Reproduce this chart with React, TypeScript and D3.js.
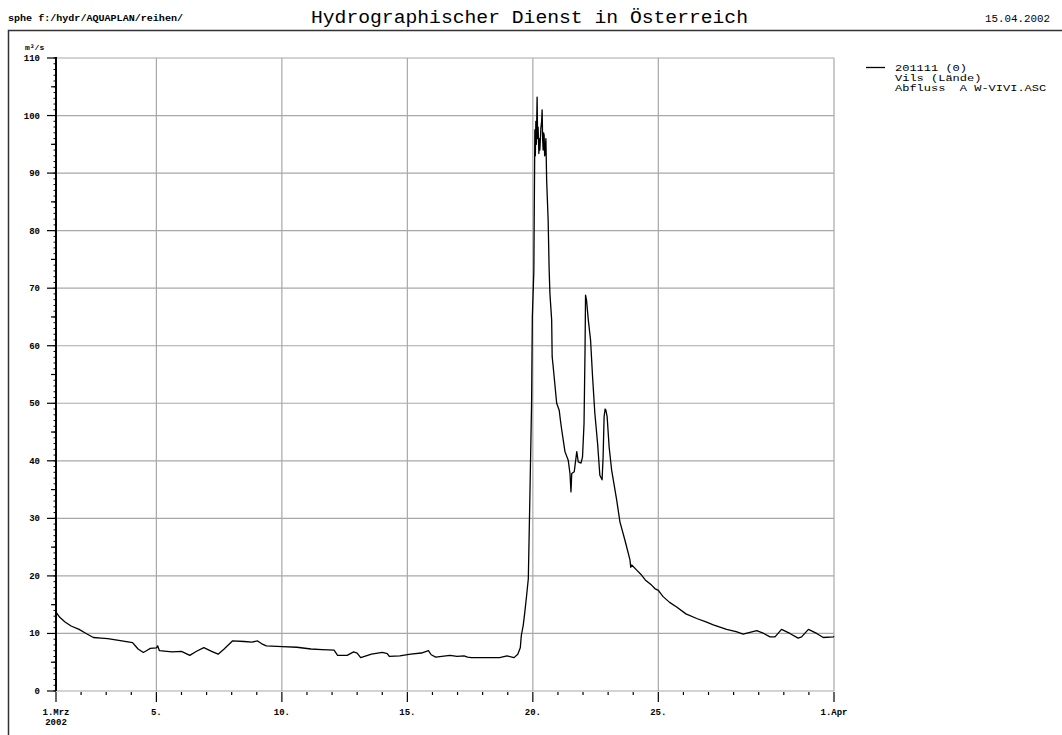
import * as d3 from "d3";

// time in days of March 2002 (32 = 1 April), discharge in m³/s
const days = [
  1.0, 1.15, 1.36, 1.6, 1.92, 2.2, 2.49, 2.8, 3.06, 3.5, 4.05, 4.15, 4.27, 4.48, 4.6, 4.76, 5.0, 5.05, 5.12,
  5.62, 6.0, 6.33, 6.6, 6.89, 7.2, 7.46, 7.7, 8.03, 8.5, 8.8, 9.03, 9.2, 9.38, 10.02, 10.6, 11.16, 11.6, 12.08,
  12.22, 12.6, 12.86, 13.0, 13.14, 13.57, 14.0, 14.2, 14.28, 14.7, 15.13, 15.56, 15.84, 15.95, 16.13, 16.7,
  16.98, 17.26, 17.4, 17.55, 18.1, 18.68, 18.97, 19.25, 19.4, 19.5, 19.54, 19.62, 19.68, 19.75, 19.82, 19.88,
  19.95, 19.98, 20.04, 20.08, 20.1, 20.12, 20.14, 20.17, 20.19, 20.21, 20.24, 20.26, 20.28, 20.32, 20.35,
  20.37, 20.39, 20.41, 20.43, 20.45, 20.47, 20.49, 20.52, 20.55, 20.61, 20.65, 20.68, 20.75, 20.77, 20.81,
  20.95, 21.05, 21.1, 21.15, 21.28, 21.41, 21.48, 21.52, 21.55, 21.65, 21.75, 21.81, 21.92, 21.98, 22.04,
  22.08, 22.1, 22.14, 22.21, 22.3, 22.38, 22.47, 22.58, 22.67, 22.76, 22.8, 22.84, 22.88, 22.91, 22.96,
  23.04, 23.14, 23.34, 23.47, 23.67, 23.87, 23.9, 23.94, 24.14, 24.3, 24.48, 24.73, 24.86, 25.0, 25.19,
  25.45, 25.73, 26.1, 26.53, 26.9, 27.19, 27.72, 28.1, 28.38, 28.65, 28.92, 29.2, 29.45, 29.65, 29.91,
  30.24, 30.57, 30.71, 30.98, 31.31, 31.57, 31.97, 32.0,
];
const flow = [
  13.7, 12.8, 12.0, 11.3, 10.7, 10.0, 9.3, 9.2, 9.1, 8.8, 8.4, 7.9, 7.3, 6.7, 7.0, 7.4, 7.5, 7.85, 7.0,
  6.8, 6.9, 6.2, 6.9, 7.55, 6.9, 6.4, 7.3, 8.7, 8.6, 8.5, 8.7, 8.2, 7.85, 7.7, 7.6, 7.3, 7.2, 7.1,
  6.2, 6.2, 6.8, 6.6, 5.8, 6.4, 6.7, 6.5, 6.0, 6.1, 6.4, 6.6, 7.0, 6.3, 5.9, 6.2,
  6.0, 6.1, 5.9, 5.8, 5.8, 5.8, 6.1, 5.8, 6.4, 7.5, 9.6, 11.5, 13.7, 16.5, 19.5, 33.2,
  50.0, 65.0, 73.0, 97.5, 93.0, 99.0, 95.0, 103.2, 96.0, 98.0, 93.4, 96.0, 94.0, 97.8, 99.0,
  101.0, 96.0, 94.0, 97.0, 96.6, 93.0, 93.5, 96.0, 88.8, 81.8, 73.2, 69.1, 64.5, 58.1, 56.4,
  50.0, 48.8, 47.0, 45.4, 41.6, 40.1, 37.8, 34.6, 37.8, 38.1, 41.6, 39.8, 39.6, 40.7, 46.5,
  59.3, 68.8, 67.9, 64.5, 61.0, 54.6, 48.3, 43.0, 37.5, 36.7, 40.7, 47.7, 49.0, 48.8, 47.7,
  42.4, 38.4, 33.2, 29.4, 26.2, 22.8, 21.5, 21.9, 21.0, 20.3, 19.3, 18.4, 17.8, 17.5, 16.4,
  15.4, 14.6, 13.4, 12.6, 12.0, 11.5, 10.7, 10.3, 9.9, 10.2, 10.5, 10.0, 9.4, 9.4, 10.7,
  10.0, 9.2, 9.4, 10.7, 10.0, 9.3, 9.4, 9.5,
];

const yTicks = d3.range(0, 111, 10);
const yMid = d3.range(5, 110, 10);
const yMinor = d3.range(0, 111, 1);
const gridDays = [5, 10, 15, 20, 25, 32];
const tickDays = d3.range(1, 33, 1);
const labelDays = [1, 5, 10, 15, 20, 25, 32];
const labelTexts = ["1.Mrz", "5.", "10.", "15.", "20.", "25.", "1.Apr"];
const legendLines = ["201111 (0)", "Vils (Lände)", "Abfluss  A W-VIVI.ASC"];

const W = 1062;
const H = 735;
const mono = "'Liberation Mono', 'DejaVu Sans Mono', monospace";

const App = () => {
  const x = d3.scaleLinear([1, 32], [56, 834]);
  const y = d3.scaleLinear([0, 110], [691, 58]);
  const pts = days.map((d, i) => [d, flow[i]] as [number, number]);
  const line = d3.line<[number, number]>((d) => x(d[0]), (d) => y(d[1]));
  const grid = "#a8a8a8";

  return (
    <svg width={W} height={H} style={{ position: "absolute", left: 0, top: 0, background: "#fff" }}
      fontFamily={mono}>
      <rect width={W} height={H} fill="#fff" />
      {/* header */}
      <text x={8} y={21} fontSize={9} fontWeight="bold" textLength={175} lengthAdjust="spacingAndGlyphs">
        sphe f:/hydr/AQUAPLAN/reihen/
      </text>
      <text x={311} y={23} fontSize={19} textLength={437} lengthAdjust="spacingAndGlyphs">
        Hydrographischer Dienst in Österreich
      </text>
      <text x={985} y={22} fontSize={11} textLength={65} lengthAdjust="spacingAndGlyphs">
        15.04.2002
      </text>
      <path d={`M8.5,${H} V30.5 H${W}`} fill="none" stroke="#333" strokeWidth={1.5} />

      {/* grid */}
      <g stroke={grid} strokeWidth={1.2}>
        {yTicks.map((t) => (
          <line key={"h" + t} x1={x(1)} x2={x(32)} y1={y(t)} y2={y(t)} />
        ))}
        {gridDays.map((d) => (
          <line key={"v" + d} x1={x(d)} x2={x(d)} y1={y(110)} y2={y(0)} />
        ))}
      </g>

      {/* y axis */}
      <g stroke="#000">
        <line x1={x(1)} x2={x(1)} y1={y(110) - 1} y2={y(0)} strokeWidth={2} />
        {yTicks.map((t) => (
          <line key={"yt" + t} x1={x(1) - 9} x2={x(1)} y1={y(t)} y2={y(t)} strokeWidth={1.2} />
        ))}
        {yMid.map((t) => (
          <line key={"ym" + t} x1={x(1) - 5} x2={x(1)} y1={y(t)} y2={y(t)} strokeWidth={1.2} />
        ))}
        {yMinor.map((t) => (
          <line key={"yn" + t} x1={x(1) - 2.5} x2={x(1)} y1={y(t)} y2={y(t)} strokeWidth={1} />
        ))}
      </g>
      <g fontSize={9} fontWeight="bold" textAnchor="end">
        {yTicks.map((t) => (
          <text key={"yl" + t} x={40} y={y(t) + 3}>
            {t}
          </text>
        ))}
      </g>
      <text x={25} y={50} fontSize={8} fontWeight="bold">
        m³/s
      </text>

      {/* x axis ticks */}
      <g stroke="#000" strokeWidth={1.2}>
        {tickDays.map((d) => (
          <line key={"xt" + d} x1={x(d)} x2={x(d)} y1={y(0) + 1} y2={y(0) + (labelDays.includes(d) ? 11 : 4)} />
        ))}
      </g>
      <g fontSize={9} fontWeight="bold" textAnchor="middle">
        {labelDays.map((d, i) => (
          <text key={"xl" + d} x={x(d)} y={715}>
            {labelTexts[i]}
          </text>
        ))}
        <text x={x(1)} y={725}>
          2002
        </text>
      </g>

      {/* series */}
      <path d={line(pts)!} fill="none" stroke="#000" strokeWidth={1.3} strokeLinejoin="round" />

      {/* legend */}
      <line x1={866} x2={885} y1={67.5} y2={67.5} stroke="#000" strokeWidth={1.3} />
      <g fontSize={9}>
        {legendLines.map((t, i) => (
          <text key={t} x={895} y={71 + i * 10} textLength={t.length * 7.2} lengthAdjust="spacingAndGlyphs"
            style={{ whiteSpace: "pre" }}>
            {t}
          </text>
        ))}
      </g>
    </svg>
  );
};

export default App;
